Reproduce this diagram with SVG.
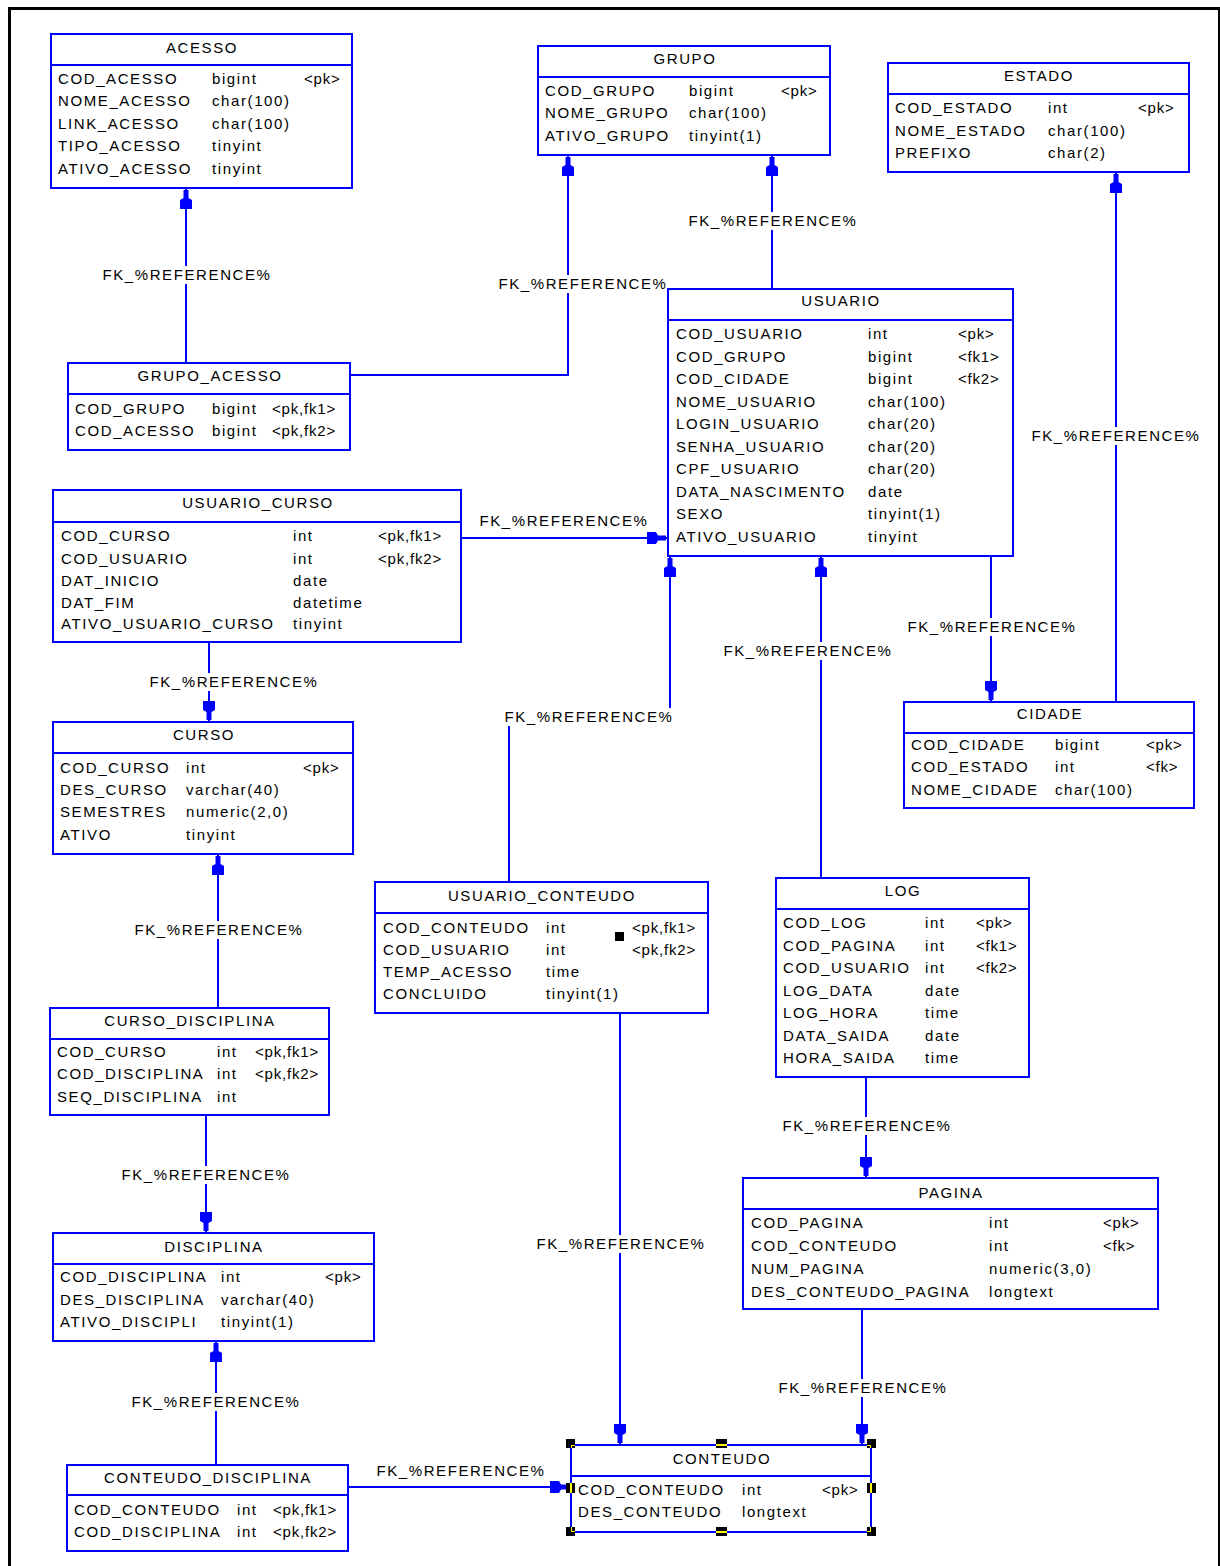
<svg xmlns="http://www.w3.org/2000/svg" width="1220" height="1566" viewBox="0 0 1220 1566">
<style>
.box{fill:#fff;stroke:#0000ff;stroke-width:2}
.sep{stroke:#0000ff;stroke-width:2}
text{font-family:"Liberation Sans",Arial,sans-serif;font-size:15px;letter-spacing:1.6px;fill:#000}
.k{letter-spacing:0.8px}
.ttl{text-anchor:middle}
.lbl{text-anchor:middle}
.lbg{fill:#fff}
.con{fill:none;stroke:#0000ff;stroke-width:2;marker-end:url(#arr)}
.hd{fill:#000}
.hy{fill:#ffff00}
</style>
<defs>
<marker id="arr" viewBox="-22 -7 24 14" refX="0" refY="0" markerWidth="24" markerHeight="14" markerUnits="userSpaceOnUse" orient="auto">
<path d="M-2,-2.5 L-10,-2.5 L-12,-6 L-21,-6 L-21,6 L-12,6 L-10,2.5 L-2,2.5 Z" fill="#0000ff"/>
</marker>
</defs>
<rect x="0" y="0" width="1220" height="1566" fill="#fff"/>
<rect x="9.5" y="8.5" width="1210" height="1600" fill="none" stroke="#000" stroke-width="3"/>

<g id="connectors">
<path class="con" d="M186,363 V188"/>
<path class="con" d="M350,375 H568 V155"/>
<path class="con" d="M772,289 V155"/>
<path class="con" d="M1116,702 V172"/>
<path class="con" d="M991,556 V702"/>
<path class="con" d="M461,538 H668"/>
<path class="con" d="M509,882 V717 H670 V556"/>
<path class="con" d="M821,878 V556"/>
<path class="con" d="M209,642 V722"/>
<path class="con" d="M218,1008 V854"/>
<path class="con" d="M206,1115 V1233"/>
<path class="con" d="M216,1465 V1341"/>
<path class="con" d="M348,1487 H571"/>
<path class="con" d="M620,1013 V1445"/>
<path class="con" d="M866,1077 V1178"/>
<path class="con" d="M862,1309 V1445"/>
<g id="labels">
<rect class="lbg" x="99" y="266" width="176" height="18"/><text class="lbl" x="187" y="280">FK_%REFERENCE%</text>
<rect class="lbg" x="495" y="275" width="172" height="18"/><text class="lbl" x="583" y="289">FK_%REFERENCE%</text>
<rect class="lbg" x="685" y="212" width="176" height="18"/><text class="lbl" x="773" y="226">FK_%REFERENCE%</text>
<rect class="lbg" x="1028" y="427" width="176" height="18"/><text class="lbl" x="1116" y="441">FK_%REFERENCE%</text>
<text class="lbl" x="564" y="526">FK_%REFERENCE%</text>
<rect class="lbg" x="904" y="618" width="176" height="18"/><text class="lbl" x="992" y="632">FK_%REFERENCE%</text>
<rect class="lbg" x="720" y="642" width="176" height="18"/><text class="lbl" x="808" y="656">FK_%REFERENCE%</text>
<rect class="lbg" x="501" y="708" width="176" height="18"/><text class="lbl" x="589" y="722">FK_%REFERENCE%</text>
<rect class="lbg" x="146" y="673" width="176" height="18"/><text class="lbl" x="234" y="687">FK_%REFERENCE%</text>
<rect class="lbg" x="131" y="921" width="176" height="18"/><text class="lbl" x="219" y="935">FK_%REFERENCE%</text>
<rect class="lbg" x="118" y="1166" width="176" height="18"/><text class="lbl" x="206" y="1180">FK_%REFERENCE%</text>
<rect class="lbg" x="128" y="1393" width="176" height="18"/><text class="lbl" x="216" y="1407">FK_%REFERENCE%</text>
<text class="lbl" x="461" y="1476">FK_%REFERENCE%</text>
<rect class="lbg" x="533" y="1235" width="176" height="18"/><text class="lbl" x="621" y="1249">FK_%REFERENCE%</text>
<rect class="lbg" x="779" y="1117" width="176" height="18"/><text class="lbl" x="867" y="1131">FK_%REFERENCE%</text>
<rect class="lbg" x="775" y="1379" width="176" height="18"/><text class="lbl" x="863" y="1393">FK_%REFERENCE%</text>
</g>
</g>

<g id="ACESSO">
<rect class="box" x="51" y="34" width="301" height="154"/>
<line class="sep" x1="51" y1="65" x2="352" y2="65"/>
<text class="ttl" x="202" y="53">ACESSO</text>
<text x="58" y="84">COD_ACESSO</text><text x="212" y="84">bigint</text><text class="k" x="304" y="84">&lt;pk&gt;</text>
<text x="58" y="106">NOME_ACESSO</text><text x="212" y="106">char(100)</text>
<text x="58" y="129">LINK_ACESSO</text><text x="212" y="129">char(100)</text>
<text x="58" y="151">TIPO_ACESSO</text><text x="212" y="151">tinyint</text>
<text x="58" y="174">ATIVO_ACESSO</text><text x="212" y="174">tinyint</text>
</g>

<g id="GRUPO">
<rect class="box" x="538" y="46" width="292" height="109"/>
<line class="sep" x1="538" y1="77" x2="830" y2="77"/>
<text class="ttl" x="685" y="64">GRUPO</text>
<text x="545" y="96">COD_GRUPO</text><text x="689" y="96">bigint</text><text class="k" x="781" y="96">&lt;pk&gt;</text>
<text x="545" y="118">NOME_GRUPO</text><text x="689" y="118">char(100)</text>
<text x="545" y="141">ATIVO_GRUPO</text><text x="689" y="141">tinyint(1)</text>
</g>

<g id="ESTADO">
<rect class="box" x="888" y="63" width="301" height="109"/>
<line class="sep" x1="888" y1="94" x2="1189" y2="94"/>
<text class="ttl" x="1039" y="81">ESTADO</text>
<text x="895" y="113">COD_ESTADO</text><text x="1048" y="113">int</text><text class="k" x="1138" y="113">&lt;pk&gt;</text>
<text x="895" y="136">NOME_ESTADO</text><text x="1048" y="136">char(100)</text>
<text x="895" y="158">PREFIXO</text><text x="1048" y="158">char(2)</text>
</g>

<g id="USUARIO">
<rect class="box" x="668" y="289" width="345" height="267"/>
<line class="sep" x1="668" y1="320" x2="1013" y2="320"/>
<text class="ttl" x="841" y="306">USUARIO</text>
<text x="676" y="339">COD_USUARIO</text><text x="868" y="339">int</text><text class="k" x="958" y="339">&lt;pk&gt;</text>
<text x="676" y="362">COD_GRUPO</text><text x="868" y="362">bigint</text><text class="k" x="958" y="362">&lt;fk1&gt;</text>
<text x="676" y="384">COD_CIDADE</text><text x="868" y="384">bigint</text><text class="k" x="958" y="384">&lt;fk2&gt;</text>
<text x="676" y="407">NOME_USUARIO</text><text x="868" y="407">char(100)</text>
<text x="676" y="429">LOGIN_USUARIO</text><text x="868" y="429">char(20)</text>
<text x="676" y="452">SENHA_USUARIO</text><text x="868" y="452">char(20)</text>
<text x="676" y="474">CPF_USUARIO</text><text x="868" y="474">char(20)</text>
<text x="676" y="497">DATA_NASCIMENTO</text><text x="868" y="497">date</text>
<text x="676" y="519">SEXO</text><text x="868" y="519">tinyint(1)</text>
<text x="676" y="542">ATIVO_USUARIO</text><text x="868" y="542">tinyint</text>
</g>

<g id="GRUPO_ACESSO">
<rect class="box" x="68" y="363" width="282" height="87"/>
<line class="sep" x1="68" y1="394" x2="350" y2="394"/>
<text class="ttl" x="210" y="381">GRUPO_ACESSO</text>
<text x="75" y="414">COD_GRUPO</text><text x="212" y="414">bigint</text><text class="k" x="272" y="414">&lt;pk,fk1&gt;</text>
<text x="75" y="436">COD_ACESSO</text><text x="212" y="436">bigint</text><text class="k" x="272" y="436">&lt;pk,fk2&gt;</text>
</g>

<g id="USUARIO_CURSO">
<rect class="box" x="53" y="490" width="408" height="152"/>
<line class="sep" x1="53" y1="522" x2="461" y2="522"/>
<text class="ttl" x="258" y="508">USUARIO_CURSO</text>
<text x="61" y="541">COD_CURSO</text><text x="293" y="541">int</text><text class="k" x="378" y="541">&lt;pk,fk1&gt;</text>
<text x="61" y="564">COD_USUARIO</text><text x="293" y="564">int</text><text class="k" x="378" y="564">&lt;pk,fk2&gt;</text>
<text x="61" y="586">DAT_INICIO</text><text x="293" y="586">date</text>
<text x="61" y="608">DAT_FIM</text><text x="293" y="608">datetime</text>
<text x="61" y="629">ATIVO_USUARIO_CURSO</text><text x="293" y="629">tinyint</text>
</g>

<g id="CURSO">
<rect class="box" x="53" y="722" width="300" height="132"/>
<line class="sep" x1="53" y1="753" x2="353" y2="753"/>
<text class="ttl" x="204" y="740">CURSO</text>
<text x="60" y="773">COD_CURSO</text><text x="186" y="773">int</text><text class="k" x="303" y="773">&lt;pk&gt;</text>
<text x="60" y="795">DES_CURSO</text><text x="186" y="795">varchar(40)</text>
<text x="60" y="817">SEMESTRES</text><text x="186" y="817">numeric(2,0)</text>
<text x="60" y="840">ATIVO</text><text x="186" y="840">tinyint</text>
</g>

<g id="CURSO_DISCIPLINA">
<rect class="box" x="50" y="1008" width="279" height="107"/>
<line class="sep" x1="50" y1="1039" x2="329" y2="1039"/>
<text class="ttl" x="190" y="1026">CURSO_DISCIPLINA</text>
<text x="57" y="1057">COD_CURSO</text><text x="217" y="1057">int</text><text class="k" x="255" y="1057">&lt;pk,fk1&gt;</text>
<text x="57" y="1079">COD_DISCIPLINA</text><text x="217" y="1079">int</text><text class="k" x="255" y="1079">&lt;pk,fk2&gt;</text>
<text x="57" y="1102">SEQ_DISCIPLINA</text><text x="217" y="1102">int</text>
</g>

<g id="DISCIPLINA">
<rect class="box" x="53" y="1233" width="321" height="108"/>
<line class="sep" x1="53" y1="1264" x2="374" y2="1264"/>
<text class="ttl" x="214" y="1252">DISCIPLINA</text>
<text x="60" y="1282">COD_DISCIPLINA</text><text x="221" y="1282">int</text><text class="k" x="325" y="1282">&lt;pk&gt;</text>
<text x="60" y="1305">DES_DISCIPLINA</text><text x="221" y="1305">varchar(40)</text>
<text x="60" y="1327">ATIVO_DISCIPLI</text><text x="221" y="1327">tinyint(1)</text>
</g>

<g id="CONTEUDO_DISCIPLINA">
<rect class="box" x="67" y="1465" width="281" height="86"/>
<line class="sep" x1="67" y1="1495" x2="348" y2="1495"/>
<text class="ttl" x="208" y="1483">CONTEUDO_DISCIPLINA</text>
<text x="74" y="1515">COD_CONTEUDO</text><text x="237" y="1515">int</text><text class="k" x="273" y="1515">&lt;pk,fk1&gt;</text>
<text x="74" y="1537">COD_DISCIPLINA</text><text x="237" y="1537">int</text><text class="k" x="273" y="1537">&lt;pk,fk2&gt;</text>
</g>

<g id="USUARIO_CONTEUDO">
<rect class="box" x="375" y="882" width="333" height="131"/>
<line class="sep" x1="375" y1="913" x2="708" y2="913"/>
<text class="ttl" x="542" y="901">USUARIO_CONTEUDO</text>
<text x="383" y="933">COD_CONTEUDO</text><text x="546" y="933">int</text><text class="k" x="632" y="933">&lt;pk,fk1&gt;</text>
<text x="383" y="955">COD_USUARIO</text><text x="546" y="955">int</text><text class="k" x="632" y="955">&lt;pk,fk2&gt;</text>
<text x="383" y="977">TEMP_ACESSO</text><text x="546" y="977">time</text>
<text x="383" y="999">CONCLUIDO</text><text x="546" y="999">tinyint(1)</text>
<rect x="615" y="932" width="9" height="9" fill="#000"/>
</g>

<g id="LOG">
<rect class="box" x="776" y="878" width="253" height="199"/>
<line class="sep" x1="776" y1="909" x2="1029" y2="909"/>
<text class="ttl" x="903" y="896">LOG</text>
<text x="783" y="928">COD_LOG</text><text x="925" y="928">int</text><text class="k" x="976" y="928">&lt;pk&gt;</text>
<text x="783" y="951">COD_PAGINA</text><text x="925" y="951">int</text><text class="k" x="976" y="951">&lt;fk1&gt;</text>
<text x="783" y="973">COD_USUARIO</text><text x="925" y="973">int</text><text class="k" x="976" y="973">&lt;fk2&gt;</text>
<text x="783" y="996">LOG_DATA</text><text x="925" y="996">date</text>
<text x="783" y="1018">LOG_HORA</text><text x="925" y="1018">time</text>
<text x="783" y="1041">DATA_SAIDA</text><text x="925" y="1041">date</text>
<text x="783" y="1063">HORA_SAIDA</text><text x="925" y="1063">time</text>
</g>

<g id="CIDADE">
<rect class="box" x="904" y="702" width="290" height="106"/>
<line class="sep" x1="904" y1="733" x2="1194" y2="733"/>
<text class="ttl" x="1050" y="719">CIDADE</text>
<text x="911" y="750">COD_CIDADE</text><text x="1055" y="750">bigint</text><text class="k" x="1146" y="750">&lt;pk&gt;</text>
<text x="911" y="772">COD_ESTADO</text><text x="1055" y="772">int</text><text class="k" x="1146" y="772">&lt;fk&gt;</text>
<text x="911" y="795">NOME_CIDADE</text><text x="1055" y="795">char(100)</text>
</g>

<g id="PAGINA">
<rect class="box" x="743" y="1178" width="415" height="131"/>
<line class="sep" x1="743" y1="1209" x2="1158" y2="1209"/>
<text class="ttl" x="951" y="1198">PAGINA</text>
<text x="751" y="1228">COD_PAGINA</text><text x="989" y="1228">int</text><text class="k" x="1103" y="1228">&lt;pk&gt;</text>
<text x="751" y="1251">COD_CONTEUDO</text><text x="989" y="1251">int</text><text class="k" x="1103" y="1251">&lt;fk&gt;</text>
<text x="751" y="1274">NUM_PAGINA</text><text x="989" y="1274">numeric(3,0)</text>
<text x="751" y="1297">DES_CONTEUDO_PAGINA</text><text x="989" y="1297">longtext</text>
</g>

<g id="CONTEUDO">
<rect class="box" x="571" y="1445" width="300" height="87"/>
<line class="sep" x1="571" y1="1476" x2="871" y2="1476"/>
<text class="ttl" x="722" y="1464">CONTEUDO</text>
<text x="578" y="1495">COD_CONTEUDO</text><text x="742" y="1495">int</text><text class="k" x="822" y="1495">&lt;pk&gt;</text>
<text x="578" y="1517">DES_CONTEUDO</text><text x="742" y="1517">longtext</text>
<g id="handles">
<rect class="hd" x="566" y="1439" width="9" height="9"/><rect class="hy" x="571" y="1445" width="4" height="1"/><rect class="hy" x="571" y="1445" width="1" height="3"/>
<rect class="hd" x="716" y="1439" width="11" height="9"/><rect class="hy" x="716" y="1444" width="11" height="2"/>
<rect class="hd" x="867" y="1439" width="9" height="9"/><rect class="hy" x="867" y="1445" width="4" height="1"/><rect class="hy" x="870" y="1445" width="1" height="3"/>
<rect class="hd" x="566" y="1483" width="9" height="10"/><rect class="hy" x="570" y="1483" width="2" height="10"/>
<rect class="hd" x="867" y="1483" width="9" height="10"/><rect class="hy" x="870" y="1483" width="2" height="10"/>
<rect class="hd" x="566" y="1527" width="9" height="9"/><rect class="hy" x="571" y="1531" width="4" height="1"/><rect class="hy" x="571" y="1527" width="1" height="4"/>
<rect class="hd" x="716" y="1527" width="11" height="9"/><rect class="hy" x="716" y="1531" width="11" height="2"/>
<rect class="hd" x="867" y="1527" width="9" height="9"/><rect class="hy" x="867" y="1531" width="4" height="1"/><rect class="hy" x="870" y="1527" width="1" height="4"/>
</g>
</g>
</svg>
